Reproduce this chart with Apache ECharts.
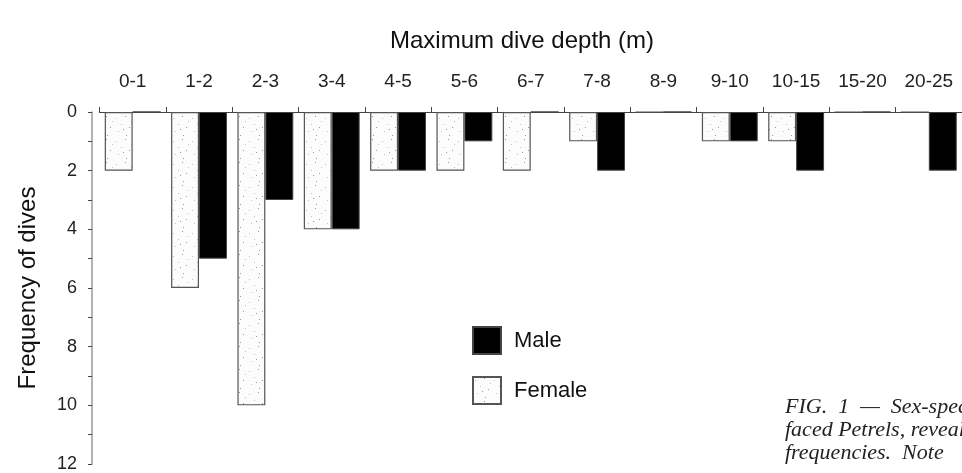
<!DOCTYPE html>
<html>
<head>
<meta charset="utf-8">
<script src="https://cdn.jsdelivr.net/npm/echarts@6/dist/echarts.min.js"></script>
<style>
  html, body { margin: 0; padding: 0; background: #fff; }
  #chart { width: 962px; height: 473px; }
</style>
</head>
<body>
<div id="chart"></div>
<script>
// dive depth classes (m)
var depthClasses = ['0-1', '1-2', '2-3', '3-4', '4-5', '5-6', '6-7', '7-8', '8-9', '9-10', '10-15', '15-20', '20-25'];
var femaleDives = [2, 6, 10, 4, 2, 2, 2, 1, 0, 1, 1, 0, 0];
var maleDives = [0, 5, 3, 4, 2, 1, 0, 2, 0, 1, 2, 0, 2];
var captionLines = ['FIG.  1  —  Sex-specific', 'faced Petrels, revealed', 'frequencies.  Note'];

// stipple fill for the female bars (sparse grey specks)
function stipple() {
    var c = document.createElement('canvas');
    c.width = 19;
    c.height = 23;
    var ctx = c.getContext('2d');
    ctx.fillStyle = '#fcfcfc';
    ctx.fillRect(0, 0, c.width, c.height);
    var specks = [[2, 3], [11, 1], [7, 9], [15, 12], [4, 16], [12, 20], [17, 6], [9, 14]];
    specks.forEach(function (p, i) {
        ctx.fillStyle = i % 2 ? 'rgba(110,110,110,0.7)' : 'rgba(170,170,170,0.7)';
        ctx.fillRect(p[0], p[1], 1, 1);
    });
    return c;
}

var myChart = echarts.init(document.getElementById('chart'));

var font = '"Liberation Sans", Arial, sans-serif';

var option = {
    backgroundColor: '#fff',
    animation: false,
    title: {
        text: 'Maximum dive depth (m)',
        left: 385,
        top: 24,
        textStyle: {fontFamily: font, fontSize: 24, fontWeight: 'normal', color: '#111'}
    },
    legend: {
        data: ['Male', 'Female'],
        orient: 'vertical',
        left: 467,
        top: 321,
        itemWidth: 28,
        itemHeight: 27,
        itemGap: 21,
        icon: 'rect',
        textStyle: {fontFamily: font, fontSize: 22, color: '#111', padding: [0, 0, 0, 8]}
    },
    grid: {left: 99.5, right: -2, top: 112, bottom: 5, containLabel: false},
    xAxis: {
        type: 'category',
        position: 'top',
        data: depthClasses,
        axisLine: {lineStyle: {color: '#444', width: 1}},
        axisTick: {show: true, length: 5, lineStyle: {color: '#444'}},
        axisLabel: {fontFamily: font, fontSize: 19, color: '#222', margin: 21, interval: 0, hideOverlap: false}
    },
    yAxis: {
        type: 'value',
        inverse: true,
        min: 0,
        max: 12,
        interval: 2,
        offset: 7.5,
        name: 'Frequency of dives',
        nameLocation: 'middle',
        nameGap: 52,
        nameRotate: 90,
        nameTextStyle: {fontFamily: font, fontSize: 24, color: '#111'},
        axisLine: {show: true, lineStyle: {color: '#999', width: 1.5}},
        axisTick: {show: true, length: 4, lineStyle: {color: '#444'}},
        minorTick: {show: true, splitNumber: 2, length: 4, lineStyle: {color: '#444'}},
        splitLine: {show: false},
        axisLabel: {fontFamily: font, fontSize: 18, color: '#222', margin: 15}
    },
    series: [
        {
            name: 'Female',
            type: 'bar',
            data: femaleDives,
            barGap: '0%',
            barCategoryGap: '15.8%',
            itemStyle: {
                color: {image: stipple(), repeat: 'repeat'},
                borderColor: '#555',
                borderWidth: 1.2
            }
        },
        {
            name: 'Male',
            type: 'bar',
            data: maleDives,
            itemStyle: {color: '#000', borderColor: '#444', borderWidth: 1}
        }
    ],
    graphic: captionLines.map(function (line, i) {
        return {
            type: 'text',
            left: 785,
            top: 396 + i * 23,
            style: {
                text: line,
                fill: '#222',
                font: 'italic 22px "Liberation Serif", "DejaVu Serif", serif'
            }
        };
    })
};

myChart.setOption(option);
</script>
</body>
</html>
